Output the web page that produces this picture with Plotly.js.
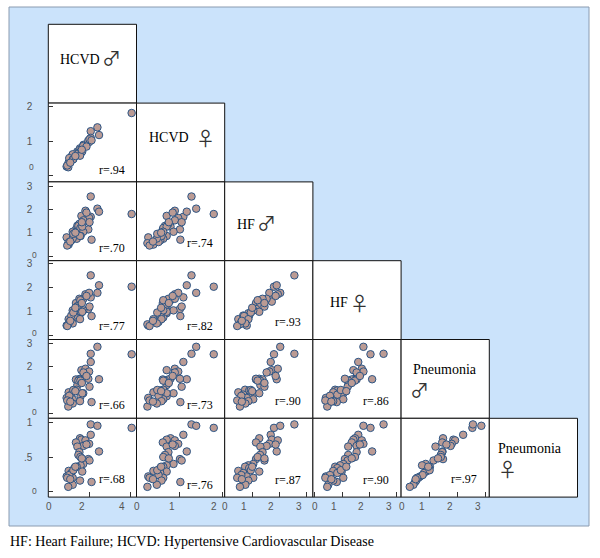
<!DOCTYPE html>
<html><head><meta charset="utf-8">
<script src="https://cdn.plot.ly/plotly-3.0.1.min.js"></script>
<style>html,body{margin:0;padding:0;background:#fff}</style>
</head><body><div id="chart" style="width:600px;height:558px"></div>
<script>
const hcvdMale   = [4.08,2.06,2.39,2.06,1.53,1.60,1.80,1.33,1.98,1.70,1.40,2.47,1.50,1.45,1.94,1.55,2.00,1.69,1.56,1.37,1.25,0.97,1.64,1.10,0.87,1.17,1.00,2.10,1.53,1.17,0.95,0.90,1.20,1.85,1.05,1.30,1.62];
const hcvdFemale = [1.80,1.28,1.39,1.09,0.79,0.70,0.89,0.61,0.97,0.89,0.70,1.17,0.74,0.66,1.01,0.62,1.05,0.86,0.70,0.62,0.55,0.39,0.70,0.55,0.27,0.62,0.51,1.02,0.58,0.47,0.25,0.30,0.48,0.84,0.38,0.57,0.75];
const hfMale     = [1.80,2.55,2.03,1.68,1.26,1.72,1.94,1.14,1.63,1.53,1.30,1.90,1.38,1.29,1.14,1.20,1.45,1.04,0.86,0.74,0.89,0.49,1.26,0.67,0.80,1.04,0.60,0.70,0.86,0.75,0.55,0.45,0.95,1.86,0.62,1.00,1.45];
const hfFemale   = [2.04,2.52,1.78,1.59,1.47,1.41,1.72,1.35,1.78,1.53,1.22,2.10,1.53,1.22,1.10,1.47,1.20,1.04,0.92,0.74,0.82,0.67,0.98,0.82,0.40,1.04,0.55,0.80,0.67,0.49,0.45,0.38,0.95,1.65,0.60,1.15,1.35];
const pneuMale   = [2.53,2.55,2.85,2.20,1.48,1.85,1.91,1.45,1.79,1.75,1.21,1.46,1.45,1.40,1.48,1.40,1.14,0.86,0.73,1.01,0.98,0.90,0.86,0.80,0.66,0.60,0.75,0.48,0.52,0.42,0.29,0.55,1.00,1.60,0.50,0.95,1.30];
const pneuFemale = [0.92,0.97,0.95,0.82,0.77,0.75,0.74,0.71,0.69,0.66,0.65,0.58,0.57,0.53,0.47,0.50,0.45,0.40,0.38,0.36,0.34,0.30,0.29,0.27,0.22,0.20,0.24,0.14,0.16,0.10,0.07,0.20,0.31,0.68,0.18,0.36,0.48];

const varNames = ['HCVD','HCVD','HF','HF','Pneumonia','Pneumonia'];
const varSex   = ['\u2642','\u2640','\u2642','\u2640','\u2642','\u2640'];
// correlation labels, lower triangle [row,col]
const rLabels = {
  '1,0':'r=.94',
  '2,0':'r=.70','2,1':'r=.74',
  '3,0':'r=.77','3,1':'r=.82','3,2':'r=.93',
  '4,0':'r=.66','4,1':'r=.73','4,2':'r=.90','4,3':'r=.86',
  '5,0':'r=.68','5,1':'r=.76','5,2':'r=.87','5,3':'r=.90','5,4':'r=.97'
};
const xTickVals = [[0,2,4],[0,1,2],[0,1,2,3],[0,1,2,3],[0,1,2,3]];
const xTickText = [['0','2','4'],['0','1','2'],['0','1','2','3'],['0','1','2','3'],['0','1','2','3']];
const yTickVals = [null,[0,1,2],[0,1,2,3],[0,1,2,3],[0,1,2,3],[0,0.5,1]];
const yTickText = [null,['','1','2'],['','1','2','3'],['','1','2','3'],['','1','2','3'],['','.5','1']];
const yZeroText = '0';
const caption = 'HF: Heart Failure; HCVD: Hypertensive Cardiovascular Disease';

// ---- layout geometry (pixels) ----
const W = 600, H = 558;
const colEdges = [48.3,136.5,224.7,312.9,401.1,489.3,577.5];
const rowEdges = [24.3,103.1,181.9,260.7,339.5,418.3,497.1];
const colRange = [[-0.035,4.32],[-0.005,2.056],[-0.01,3.23],[-0.077,3.165],[-0.02,3.135]];
const rowRange = [null,[-0.169,2.083],[-0.2,3.176],[-0.19,3.139],[-0.214,3.163],[-0.078,1.058]];
const rOffsetY = {'1,0':66.7,'2,0':65.6,'2,1':60.6,'3,0':65,'3,1':65,'3,2':61.6,'4,0':65.7,'4,1':65.7,
  '4,2':61.4,'4,3':61.4,'5,0':61,'5,1':66.3,'5,2':61.3,'5,3':61.3,'5,4':61};
// small "0" labels of the left axes, drawn where the source puts them
const zeroLabelPos = [null,{x:31.7,y:166.7},{x:34,y:255},{x:34,y:333.3},{x:34,y:412},{x:34,y:491}];
const px = x => x / W, py = y => 1 - y / H;

const vars = [hcvdMale,hcvdFemale,hfMale,hfFemale,pneuMale,pneuFemale];

const traces = [];
const layout = {
  width: W, height: H,
  margin: {l:0,r:0,t:0,b:0},
  paper_bgcolor: '#ffffff',
  plot_bgcolor: 'rgba(0,0,0,0)',
  showlegend: false,
  shapes: [],
  annotations: []
};
// blue background
layout.shapes.push({type:'rect', xref:'paper', yref:'paper', x0:px(9), x1:px(589), y0:py(526), y1:py(7),
  fillcolor:'#cbe3fb', line:{color:'#8a9bb0', width:1}, layer:'below'});

const tickFont = {family:'Liberation Sans, Arial, sans-serif', size:10, color:'#555555'};
const zeroFont = {family:'Liberation Sans, Arial, sans-serif', size:8.5, color:'#555555'};
const serif = 'Liberation Serif, Times New Roman, serif';
const labelCfg = [
  {tx:59, ty:59.5, sx:111, sy:58},
  {tx:147.7, ty:137.8, sx:205.8, sy:137.8},
  {tx:236, ty:224.3, sx:266.3, sy:222},
  {tx:329.3, ty:302.8, sx:359.7, sy:302.5},
  {tx:412.3, ty:369.7, sx:419, sy:389.3},
  {tx:497.3, ty:448.8, sx:507.5, sy:468.7}
];
let k = 0;
for (let i = 0; i < 6; i++) {
  for (let j = 0; j <= i; j++) {
    const x0 = colEdges[j], x1 = colEdges[j+1], y0 = rowEdges[i], y1 = rowEdges[i+1];
    layout.shapes.push({type:'rect', xref:'paper', yref:'paper', x0:px(x0), x1:px(x1), y0:py(y1), y1:py(y0),
      fillcolor:'#ffffff', line:{color:'#111111', width:1}, layer:'below'});
    if (i === j) {
      const c = labelCfg[i];
      layout.annotations.push({xref:'paper', yref:'paper', x:px(c.tx), y:py(c.ty),
        xanchor:'left', yanchor:'middle', showarrow:false, borderpad:0, text:varNames[i],
        font:{family:serif, size:14, color:'#000'}});
      layout.annotations.push({xref:'paper', yref:'paper', x:px(c.sx), y:py(c.sy),
        xanchor:'center', yanchor:'middle', showarrow:false, borderpad:0, text:varSex[i],
        font:{family:'Noto Sans CJK JP, DejaVu Sans, sans-serif', size:19, color:'#333'}});
      continue;
    }
    k++;
    const xa = k === 1 ? 'xaxis' : 'xaxis' + k;
    const ya = k === 1 ? 'yaxis' : 'yaxis' + k;
    const xr = k === 1 ? 'x' : 'x' + k;
    const yr = k === 1 ? 'y' : 'y' + k;
    traces.push({type:'scatter', mode:'markers', x:vars[j], y:vars[i], xaxis:xr, yaxis:yr,
      hoverinfo:'skip', cliponaxis:false,
      marker:{size:7.5, color:'#bb9b94', line:{color:'#2c5585', width:1}}});
    const showX = (i === 5), showY = (j === 0);
    layout[xa] = {domain:[px(x0), px(x1)], range:colRange[j], anchor:yr,
      showgrid:false, zeroline:false, showline:false, fixedrange:true,
      ticks: showX ? 'inside' : '', ticklen:5, tickcolor:'#333', tickwidth:1,
      showticklabels:false, tickmode:'array', tickvals: xTickVals[j]};
    layout[ya] = {domain:[py(y1), py(y0)], range:rowRange[i], anchor:xr,
      showgrid:false, zeroline:false, showline:false, fixedrange:true,
      ticks: showY ? 'inside' : '', ticklen:5, tickcolor:'#333', tickwidth:1,
      showticklabels: showY, tickmode:'array', tickvals: yTickVals[i], ticktext: yTickText[i],
      tickfont:tickFont, ticklabelstandoff:15};
    if (showY) {
      const z = zeroLabelPos[i];
      layout.annotations.push({xref:'paper', yref:'paper', x:px(z.x), y:py(z.y), xanchor:'center',
        yanchor:'middle', showarrow:false, borderpad:0, text:yZeroText, font:zeroFont});
    }
    if (showX) {
      // bottom tick labels; the non-zero ones sit a little left of their tick, as in the source
      const r = colRange[j];
      xTickVals[j].forEach((v, n) => {
        const pos = x0 + (v - r[0]) / (r[1] - r[0]) * (x1 - x0) - (v === 0 ? 0 : 8);
        layout.annotations.push({xref:'paper', yref:'paper', x:px(pos), y:py(506), xanchor:'center',
          yanchor:'middle', showarrow:false, borderpad:0, text:xTickText[j][n], font:tickFont});
      });
    }
    const key = i + ',' + j;
    layout.annotations.push({xref:'paper', yref:'paper', x:px(x0 + 63.3), y:py(y0 + rOffsetY[key]),
      xanchor:'center', yanchor:'middle', showarrow:false, borderpad:0, text:rLabels[key],
      font:{family:serif, size:12, color:'#000'}});
  }
}
// caption
layout.annotations.push({xref:'paper', yref:'paper', x:px(9), y:py(541.5), xanchor:'left', yanchor:'middle',
  showarrow:false, borderpad:0, text:caption, font:{family:serif, size:14, color:'#000'}});

Plotly.newPlot('chart', traces, layout, {staticPlot:true, displayModeBar:false});
</script></body></html>
